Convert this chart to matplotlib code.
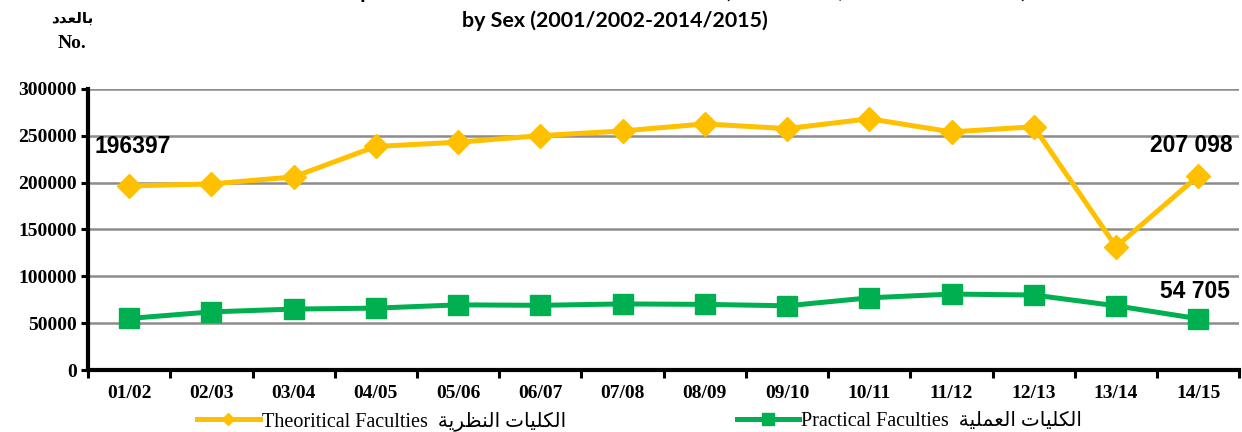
import numpy as np
import matplotlib.pyplot as plt
from matplotlib.lines import Line2D

years = ['01/02', '02/03', '03/04', '04/05', '05/06', '06/07', '07/08',
         '08/09', '09/10', '10/11', '11/12', '12/13', '13/14', '14/15']
theoretical = [196397, 198500, 206000, 238500, 243000, 250000, 255000,
               262500, 257500, 268000, 254000, 259500, 131500, 207098]
practical = [55000, 62000, 65000, 66000, 69500, 69000, 70500,
             70000, 68500, 77000, 81000, 80000, 68500, 54705]
yticks = [0, 50000, 100000, 150000, 200000, 250000, 300000]

# arabic text written with presentation forms, reversed for display
ar_no = 'ﺑﺎﻟﻌﺪﺩ'[::-1]
ar_theo = 'ﺍﻟﻜﻠﻴﺎﺕ ﺍﻟﻨﻈﺮﻳﺔ'[::-1]
ar_prac = 'ﺍﻟﻜﻠﻴﺎﺕ ﺍﻟﻌﻤﻠﻴﺔ'[::-1]

yellow = '#FFC000'
green = '#00B050'
serif = ['Liberation Serif', 'DejaVu Sans']

fig = plt.figure(figsize=(12.42, 4.32), dpi=100)
ax = fig.add_axes([0.0709, 0.1435, 0.927, 0.651])

x = np.arange(len(years))
ax.plot(x, theoretical, color=yellow, lw=3.6, marker='D', ms=12.5, zorder=3)
ax.plot(x, practical, color=green, lw=3.6, marker='s', ms=15, zorder=3)

ax.set_xlim(-0.5, len(years) - 0.5)
ax.set_ylim(0, 300000)
ax.set_yticks(yticks)
ax.set_yticklabels([str(v) for v in yticks], fontfamily=serif,
                   fontweight='bold', fontsize=14)
ax.yaxis.grid(True, color='#8c8c8c', lw=1.8)
ax.set_axisbelow(True)

ax.set_xticks(x)
ax.set_xticklabels(years, fontfamily=serif, fontweight='bold', fontsize=14)
ax.set_xticks(np.arange(len(years) + 1) - 0.5, minor=True)
ax.tick_params(axis='x', which='major', length=0, pad=11)
ax.tick_params(axis='x', which='minor', length=6, width=2.2, direction='out')
ax.tick_params(axis='y', length=5, width=2.2, direction='out', pad=3)

for s in ['top', 'right']:
    ax.spines[s].set_visible(False)
for s in ['left', 'bottom']:
    ax.spines[s].set_linewidth(3)

ax.annotate(f'{theoretical[0]}', (x[0], theoretical[0]), xytext=(-25, 24),
            textcoords='offset points', fontsize=16.5, fontweight='bold',
            family='Liberation Sans')
ax.annotate(f'{theoretical[-1]:,}'.replace(',', ' '), (x[-1], theoretical[-1]),
            xytext=(25, 17), textcoords='offset points', ha='right',
            fontsize=16.5, fontweight='bold', family='Liberation Sans')
ax.annotate(f'{practical[-1]:,}'.replace(',', ' '), (x[-1], practical[-1]),
            xytext=(23, 15), textcoords='offset points', ha='right',
            fontsize=16.5, fontweight='bold', family='Liberation Sans')

handles = [Line2D([], [], color=yellow, lw=3.6, marker='D', ms=6),
           Line2D([], [], color=green, lw=3.6, marker='s', ms=8)]
labels = ['Theoritical Faculties  ' + ar_theo, 'Practical Faculties  ' + ar_prac]
fig.legend(handles, labels, loc='lower center', ncol=2, frameon=False,
           bbox_to_anchor=(0.515, -0.04), columnspacing=8.5, handlelength=3.1,
           handletextpad=0.1, prop={'family': serif, 'size': 14.5})

fig.text(0.531, 0.995, 'Development of Graduates from Universities (Theoretical, Practical Faculties)',
         ha='center', va='bottom', fontsize=15.4, fontweight='bold', family='Lato')
fig.text(0.495, 0.953, 'by Sex (2001/2002-2014/2015)', ha='center', va='center',
         fontsize=15.4, fontweight='bold', family='Lato')
fig.text(0.058, 0.958, ar_no, ha='center', va='center', fontsize=11,
         fontweight='bold', family='DejaVu Sans')
fig.text(0.058, 0.9, 'No.', ha='center', va='center', fontsize=14,
         fontweight='bold', family='Liberation Serif')

fig.savefig('out.png', dpi=100)
